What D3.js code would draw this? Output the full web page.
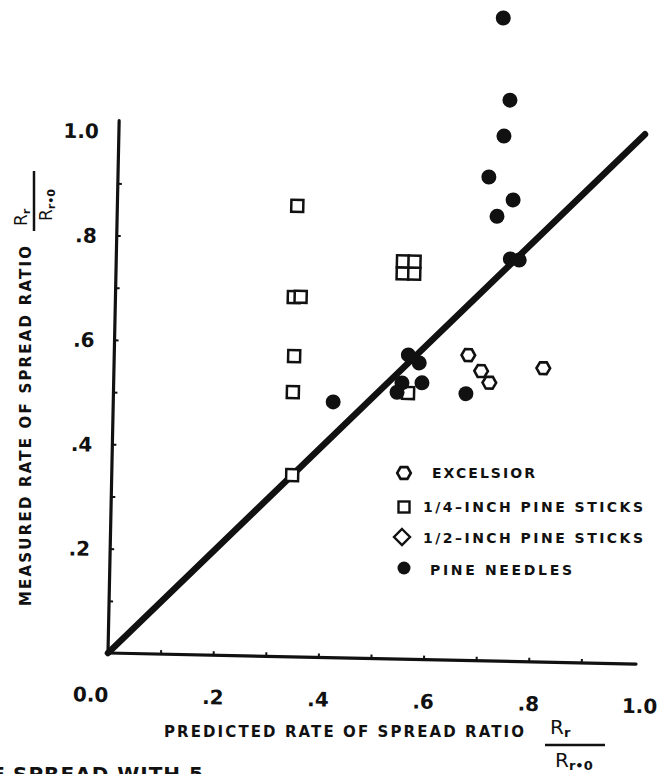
<!DOCTYPE html>
<html>
<head>
<meta charset="utf-8">
<script src="https://cdn.jsdelivr.net/npm/d3@7"></script>
<style>
  body { margin: 0; background: #fff; }
  svg { display: block; }
  text { font-family: "DejaVu Sans", sans-serif; font-weight: bold; fill: #111; }
</style>
</head>
<body>
<svg id="chart" width="659" height="774"></svg>
<script>
// Measured vs predicted rate-of-spread ratio, by fuel type
const pineNeedles = [
  [0.726, 1.232], [0.742, 1.075], [0.732, 1.006], [0.705, 0.927], [0.752, 0.884],
  [0.722, 0.852], [0.749, 0.771], [0.766, 0.769], [0.559, 0.583], [0.580, 0.568],
  [0.548, 0.529], [0.539, 0.511], [0.586, 0.530], [0.418, 0.490], [0.670, 0.511]
];
const excelsior = [[0.673, 0.585], [0.698, 0.555], [0.714, 0.533], [0.816, 0.563]];
const quarterInchSticks = [
  [0.342, 0.864], [0.339, 0.689], [0.352, 0.690], [0.342, 0.576], [0.341, 0.507],
  [0.343, 0.348], [0.545, 0.739], [0.567, 0.739], [0.545, 0.762], [0.567, 0.762],
  [0.560, 0.510]
];
const halfInchSticks = [];

// 1:1 agreement line
const agreementLine = [[0, 0], [1.0, 1.015]];

const minorTicks = [0.1, 0.2, 0.3, 0.4, 0.5, 0.6, 0.7, 0.8, 0.9];
const xLabelValues = [0, 0.2, 0.4, 0.6, 0.8, 1.0];
const xTickLabels = ["0.0", ".2", ".4", ".6", ".8", "1.0"];
const yLabelValues = [0.2, 0.4, 0.6, 0.8, 1.0];
const yTickLabels = [".2", ".4", ".6", ".8", "1.0"];
const xAxisEnd = 1.004;
const yAxisTop = 1.02;

const legendLabels = ["EXCELSIOR", "1/4\u2013INCH PINE STICKS", "1/2\u2013INCH PINE STICKS", "PINE NEEDLES"];
const xTitle = "PREDICTED RATE OF SPREAD RATIO";
const yTitle = "MEASURED RATE OF SPREAD RATIO";
const captionTail = "SPREAD WITH 5";

const svg = d3.select("#chart");
svg.append("rect").attr("width", 659).attr("height", 774).attr("fill", "#fff");

const ox = 108, oy = 653, tilt = 1.2;
const x = d3.scaleLinear().domain([0, 1]).range([ox, ox + 526]);
const y = d3.scaleLinear().domain([0, 1]).range([oy, oy - 522]);

// the hand-drawn frame sits slightly turned
const plot = svg.append("g").attr("transform", `rotate(${tilt} ${ox} ${oy})`);

// axis lines
plot.append("line")
  .attr("x1", x(0)).attr("y1", y(0)).attr("x2", x(xAxisEnd)).attr("y2", y(0))
  .attr("stroke", "#111").attr("stroke-width", 3.2).attr("stroke-linecap", "round");
plot.append("line")
  .attr("x1", x(0)).attr("y1", y(0)).attr("x2", x(0)).attr("y2", y(yAxisTop))
  .attr("stroke", "#111").attr("stroke-width", 3.2).attr("stroke-linecap", "round");

// small inward ticks
const gxMinor = plot.append("g").attr("transform", `translate(0,${oy})`)
  .call(d3.axisBottom(x).tickValues(minorTicks).tickSizeInner(-4).tickSizeOuter(0).tickFormat(""));
gxMinor.select(".domain").remove();
gxMinor.selectAll(".tick line").attr("stroke", "#111").attr("stroke-width", 2);

const gyMinor = plot.append("g").attr("transform", `translate(${ox},0)`)
  .call(d3.axisLeft(y).tickValues(minorTicks).tickSizeInner(-4).tickSizeOuter(0).tickFormat(""));
gyMinor.select(".domain").remove();
gyMinor.selectAll(".tick line").attr("stroke", "#111").attr("stroke-width", 2);

// tick labels
const gxLab = plot.append("g").attr("transform", `translate(0,${oy})`)
  .call(d3.axisBottom(x).tickValues(xLabelValues).tickSize(0).tickFormat((d, i) => xTickLabels[i]));
gxLab.select(".domain").remove();
gxLab.selectAll(".tick text")
  .attr("y", 49).attr("dy", 0)
  .attr("dx", (d, i) => i === 0 ? -17 : (i === xLabelValues.length - 1 ? 6 : 0))
  .style("font-size", "20px").style("font-family", "'DejaVu Sans', sans-serif")
  .style("font-weight", "bold").attr("fill", "#111");

const gyLab = plot.append("g").attr("transform", `translate(${ox},0)`)
  .call(d3.axisLeft(y).tickValues(yLabelValues).tickSize(0).tickPadding(20).tickFormat((d, i) => yTickLabels[i]));
gyLab.select(".domain").remove();
gyLab.selectAll(".tick text")
  .attr("dy", "0.36em")
  .style("font-size", "20px").style("font-family", "'DejaVu Sans', sans-serif")
  .style("font-weight", "bold").attr("fill", "#111");

// agreement line
plot.append("path")
  .datum(agreementLine)
  .attr("d", d3.line().x(d => x(d[0])).y(d => y(d[1])))
  .attr("fill", "none").attr("stroke", "#111").attr("stroke-width", 6.5).attr("stroke-linecap", "round");

// marker shapes
const sq = 12, hexR = 6.8, dotR = 7.5, dia = 8;
function hexPath(cx, cy, r) {
  const pts = d3.range(6).map(k => {
    const a = Math.PI / 3 * k;
    return [cx + r * Math.cos(a), cy + r * Math.sin(a)];
  });
  return "M" + pts.map(p => p.join(",")).join("L") + "Z";
}
function diamondPath(cx, cy, r) {
  return `M${cx},${cy - r}L${cx + r},${cy}L${cx},${cy + r}L${cx - r},${cy}Z`;
}

plot.append("g").selectAll("rect")
  .data(quarterInchSticks).join("rect")
  .attr("x", d => x(d[0]) - sq / 2).attr("y", d => y(d[1]) - sq / 2)
  .attr("width", sq).attr("height", sq)
  .attr("fill", "#fff").attr("stroke", "#111").attr("stroke-width", 2.5);

plot.append("g").selectAll("path")
  .data(halfInchSticks).join("path")
  .attr("d", d => diamondPath(x(d[0]), y(d[1]), dia))
  .attr("fill", "#fff").attr("stroke", "#111").attr("stroke-width", 2.5);

plot.append("g").selectAll("path")
  .data(excelsior).join("path")
  .attr("d", d => hexPath(x(d[0]), y(d[1]), hexR))
  .attr("fill", "#fff").attr("stroke", "#111").attr("stroke-width", 2.6);

plot.append("g").selectAll("circle")
  .data(pineNeedles).join("circle")
  .attr("cx", d => x(d[0])).attr("cy", d => y(d[1])).attr("r", dotR)
  .attr("fill", "#111");

// legend
const legendRows = [
  { cx: 404, cy: 473, tx: 432, ty: 478, len: 103 },
  { cx: 404, cy: 507, tx: 423, ty: 512, len: 220 },
  { cx: 402, cy: 537, tx: 423, ty: 543, len: 220 },
  { cx: 404, cy: 568, tx: 430, ty: 575, len: 142 }
];
const lg = svg.append("g");
lg.append("path").attr("d", hexPath(legendRows[0].cx, legendRows[0].cy, 6.8))
  .attr("fill", "#fff").attr("stroke", "#111").attr("stroke-width", 2.6);
lg.append("rect").attr("x", legendRows[1].cx - 5.5).attr("y", legendRows[1].cy - 5.5)
  .attr("width", 11).attr("height", 11)
  .attr("fill", "#fff").attr("stroke", "#111").attr("stroke-width", 2.4);
lg.append("path").attr("d", diamondPath(legendRows[2].cx, legendRows[2].cy, 8))
  .attr("fill", "#fff").attr("stroke", "#111").attr("stroke-width", 2.4);
lg.append("circle").attr("cx", legendRows[3].cx).attr("cy", legendRows[3].cy).attr("r", 6.5)
  .attr("fill", "#111");
lg.selectAll("text.lab").data(legendLabels).join("text").attr("class", "lab")
  .attr("x", (d, i) => legendRows[i].tx).attr("y", (d, i) => legendRows[i].ty)
  .attr("textLength", (d, i) => legendRows[i].len).attr("lengthAdjust", "spacing")
  .style("font-size", "14px").text(d => d);

// R_r over R_r=0, drawn in a local frame (reading direction along +x)
function ratio(g, barAt, denAt, size) {
  const n = g.append("text").attr("x", 0).attr("y", 0)
    .style("font-size", size + "px").style("font-weight", "normal");
  n.append("tspan").text("R");
  n.append("tspan").attr("dy", 3).style("font-size", (size * 0.65) + "px").style("font-weight", "bold").text("r");
  g.append("line").attr("x1", -5).attr("x2", 55).attr("y1", barAt).attr("y2", barAt)
    .attr("stroke", "#111").attr("stroke-width", 2.5);
  const dn = g.append("text").attr("x", 5).attr("y", denAt)
    .style("font-size", size + "px").style("font-weight", "normal");
  dn.append("tspan").text("R");
  dn.append("tspan").attr("dy", 3).style("font-size", (size * 0.65) + "px").style("font-weight", "bold").text("r\u20220");
}

// x title with ratio
svg.append("text").attr("x", 164).attr("y", 737)
  .attr("textLength", 360).attr("lengthAdjust", "spacing")
  .style("font-size", "15px").text(xTitle);
ratio(svg.append("g").attr("transform", "translate(550,734)"), 11, 33, 20);

// y title with ratio
svg.append("text").attr("transform", "translate(31,606) rotate(-90)")
  .attr("textLength", 360).attr("lengthAdjust", "spacing")
  .style("font-size", "15px").text(yTitle);
ratio(svg.append("g").attr("transform", "translate(27,226) rotate(-90)"), 7, 25, 17);

// cut-off caption line at the bottom edge
svg.append("text").attr("x", 5).attr("y", 781).attr("text-anchor", "end")
  .style("font-size", "20px").text("OF");
svg.append("text").attr("x", 13).attr("y", 781)
  .attr("textLength", 190).attr("lengthAdjust", "spacing")
  .style("font-size", "20px").text(captionTail);
</script>
</body>
</html>
